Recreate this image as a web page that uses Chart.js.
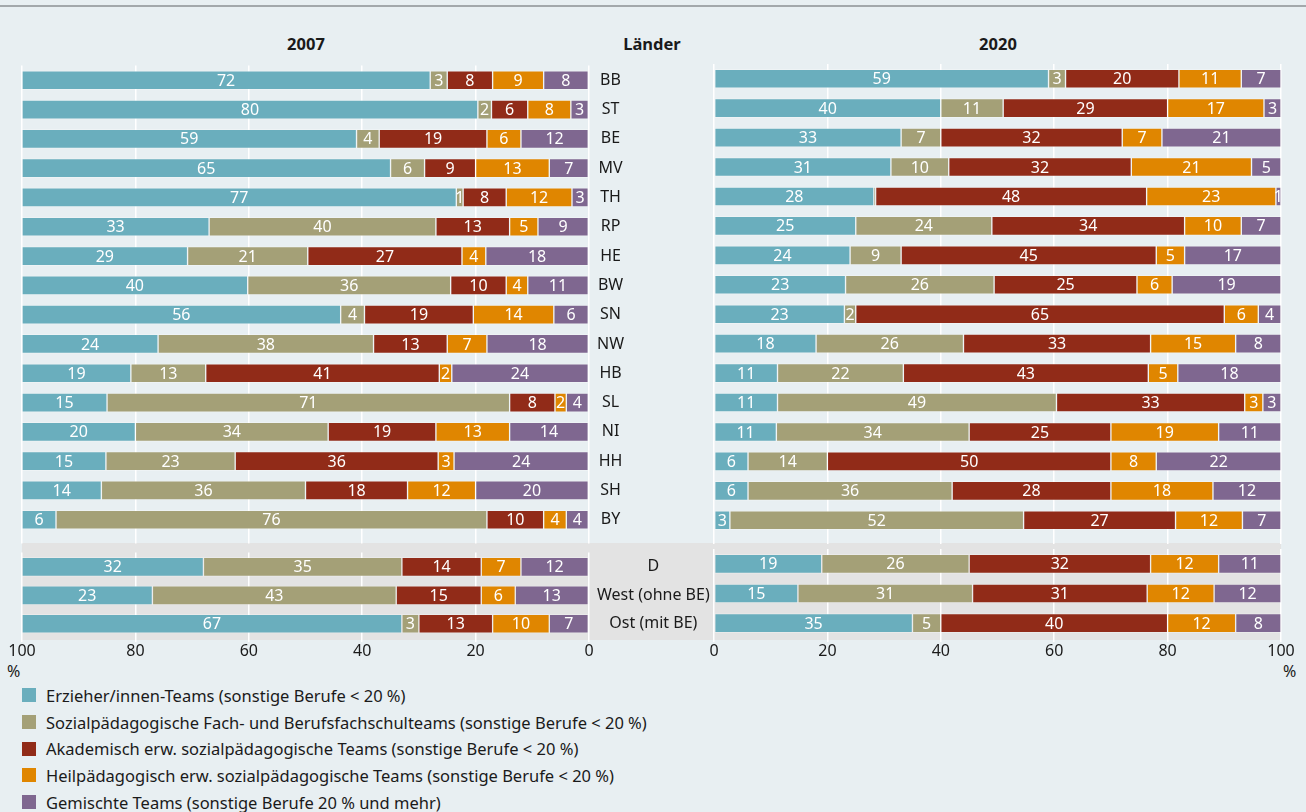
<!DOCTYPE html>
<html lang="de">
<head>
<meta charset="utf-8">
<title>Teamtypen 2007 und 2020</title>
<script src="https://cdn.jsdelivr.net/npm/chart.js@4.4.1/dist/chart.umd.min.js"></script>
<style>
  body{margin:0;background:#e8eff2;font-family:"Noto Sans",sans-serif;color:#1a1a1a;}
  #wrap{position:relative;width:1306px;height:812px;overflow:hidden;}
  #rule{position:absolute;left:0;top:5px;width:1306px;height:2px;background:#a3a8ab;}
  #band{position:absolute;left:22px;top:543px;width:1259px;height:97px;background:#e3e3e3;}
  canvas{position:absolute;}
  .head{position:absolute;top:32px;font-weight:bold;font-size:16.5px;transform:translateX(-50%);}
  .pct{position:absolute;top:660px;font-size:16px;}
  #legend{position:absolute;left:22px;top:682px;font-size:16.5px;}
  #legend div{height:26.7px;display:flex;align-items:center;}
  #legend span.box{width:14px;height:14px;margin-right:10px;display:inline-block;}
</style>
</head>
<body>
<div id="wrap">
  <div id="rule"></div>
  <div id="band"></div>
  <div class="head" style="left:306px">2007</div>
  <div class="head" style="left:652px">Länder</div>
  <div class="head" style="left:998px">2020</div>
  <canvas id="l07" width="714" height="488" style="left:0;top:56px"></canvas>
  <canvas id="l20" width="616" height="488" style="left:690px;top:56px"></canvas>
  <canvas id="s07" width="714" height="117" style="left:0;top:543px"></canvas>
  <canvas id="s20" width="616" height="117" style="left:690px;top:543px"></canvas>
  <div class="pct" style="left:7px">%</div>
  <div class="pct" style="left:1283px">%</div>
  <div id="legend"></div>
</div>
<script>
const laender = ["BB","ST","BE","MV","TH","RP","HE","BW","SN","NW","HB","SL","NI","HH","SH","BY"];
const gesamt = ["D","West (ohne BE)","Ost (mit BE)"];
const xTicks = [0,20,40,60,80,100];

const legendLabels = [
  "Erzieher/innen-Teams (sonstige Berufe < 20 %)",
  "Sozialpädagogische Fach- und Berufsfachschulteams (sonstige Berufe < 20 %)",
  "Akademisch erw. sozialpädagogische Teams (sonstige Berufe < 20 %)",
  "Heilpädagogisch erw. sozialpädagogische Teams (sonstige Berufe < 20 %)",
  "Gemischte Teams (sonstige Berufe 20 % und mehr)"
];
const colors = ["#6aaebd","#a4a077","#912b18","#e08600","#7f6790"];

// 2007, Länder
const erz07 = [72, 80.4, 59, 65, 76.6, 33, 29.2, 39.8, 56.2, 24, 19.2, 15, 20, 14.8, 14, 6];
const soz07 = [3, 2.4, 4, 6, 1.2, 40, 21.2, 35.8, 4.2, 38, 13.2, 71, 34, 22.8, 36, 76];
const aka07 = [8, 6.4, 19, 9, 7.6, 13, 27.2, 9.8, 19.2, 13, 41.2, 8, 19, 35.8, 18, 10];
const heil07 = [9, 7.6, 6, 13, 11.6, 5, 4.2, 3.8, 14.2, 7, 2.2, 2, 13, 2.8, 12, 4];
const gem07 = [8, 3.2, 12, 7, 3, 9, 18.2, 10.8, 6.2, 18, 24.2, 4, 14, 23.8, 20, 4];
// 2007, D / West / Ost
const erzS07 = [32, 23, 67];
const sozS07 = [35, 43, 3];
const akaS07 = [14, 15, 13];
const heilS07 = [7, 6, 10];
const gemS07 = [12, 13, 7];

// 2020, Länder
const erz20 = [59, 40, 33, 31.2, 28.2, 25, 24, 23.2, 23, 18, 11.2, 11.2, 11, 6, 6, 2.8];
const soz20 = [3, 11, 7, 10.2, 0.3, 24, 9, 26.2, 2, 26, 22.2, 49.2, 34, 14, 36, 51.8];
const aka20 = [20, 29, 32, 32.2, 47.8, 34, 45, 25.2, 65, 33, 43.2, 33.2, 25, 50, 28, 26.8];
const heil20 = [11, 17, 7, 21.2, 22.8, 10, 5, 6.2, 6, 15, 5.2, 3.2, 19, 8, 18, 11.8];
const gem20 = [7, 3, 21, 5.2, 0.9, 7, 17, 19.2, 4, 8, 18.2, 3.2, 11, 22, 12, 6.8];
// 2020, D / West / Ost
const erzS20 = [19, 14.8, 35];
const sozS20 = [26, 30.8, 5];
const akaS20 = [32, 30.8, 40];
const heilS20 = [12, 11.8, 12];
const gemS20 = [11, 11.8, 8];

Chart.defaults.font.family = "'Noto Sans', sans-serif";
Chart.defaults.font.size = 16;
Chart.defaults.color = "#1a1a1a";

// white value labels in the middle of each segment
const segLabels = {
  id:"segLabels",
  afterDatasetsDraw(chart){
    const ctx = chart.ctx;
    ctx.save();
    ctx.fillStyle = "#fff";
    ctx.font = "16px 'Noto Sans', sans-serif";
    ctx.textAlign = "center";
    ctx.textBaseline = "middle";
    chart.data.datasets.forEach((ds,i)=>{
      chart.getDatasetMeta(i).data.forEach((bar,j)=>{
        const v = Math.round(ds.data[j]);
        if(v<1) return;
        ctx.fillText(v, (bar.x+bar.base)/2, bar.y+1);
      });
    });
    ctx.restore();
  }
};

function makeChart(id, labels, series, left, withTicks){
  let datasets = series.map((d,i)=>({
    label: legendLabels[i], data: d, backgroundColor: colors[i],
    borderColor: "rgba(255,255,255,0.25)", borderWidth: 1, borderSkipped: false,
    barThickness: 19
  }));
  // left panel runs from 100 down to 0, so stack from the right end
  if(left) datasets = datasets.reverse();
  return new Chart(document.getElementById(id), {
    type: "bar",
    data: {labels, datasets},
    plugins: [segLabels],
    options: {
      indexAxis: "y",
      responsive: false,
      animation: false,
      layout: {padding: left ? {left:22, top: withTicks?6:8, right:0, bottom:0}
                             : {left:24, top: withTicks?6:8, right:25, bottom:0}},
      plugins: {legend:{display:false}, tooltip:{enabled:false}},
      scales: {
        x: {
          stacked: true, min: 0, max: 100, reverse: left,
          afterBuildTicks: s => { s.ticks = xTicks.map(v=>({value:v})); },
          afterFit: s => { s.height = withTicks ? 22 : 9; },
          grid: {color:"#ffffff", lineWidth:1.5, drawTicks:true, tickLength: withTicks?4:9},
          border: {display:false},
          ticks: {display: withTicks, padding: 0, color:"#1a1a1a", font:{size:16}}
        },
        y: {
          stacked: true, display: left, position: "right",
          afterFit: s => { if(left) s.width = 125; },
          grid: {display:false}, border: {display:false},
          ticks: {crossAlign:"center", padding:0, color:"#1a1a1a", font:{size:16}}
        }
      }
    }
  });
}

makeChart("l07", laender, [erz07, soz07, aka07, heil07, gem07], true, false);
makeChart("l20", laender, [erz20, soz20, aka20, heil20, gem20], false, false);
makeChart("s07", gesamt, [erzS07, sozS07, akaS07, heilS07, gemS07], true, true);
makeChart("s20", gesamt, [erzS20, sozS20, akaS20, heilS20, gemS20], false, true);

const legend = document.getElementById("legend");
legendLabels.forEach((t,i)=>{
  const row = document.createElement("div");
  row.innerHTML = `<span class="box" style="background:${colors[i]}"></span>${t.replace(/</g,"&lt;")}`;
  legend.appendChild(row);
});
</script>
</body>
</html>
